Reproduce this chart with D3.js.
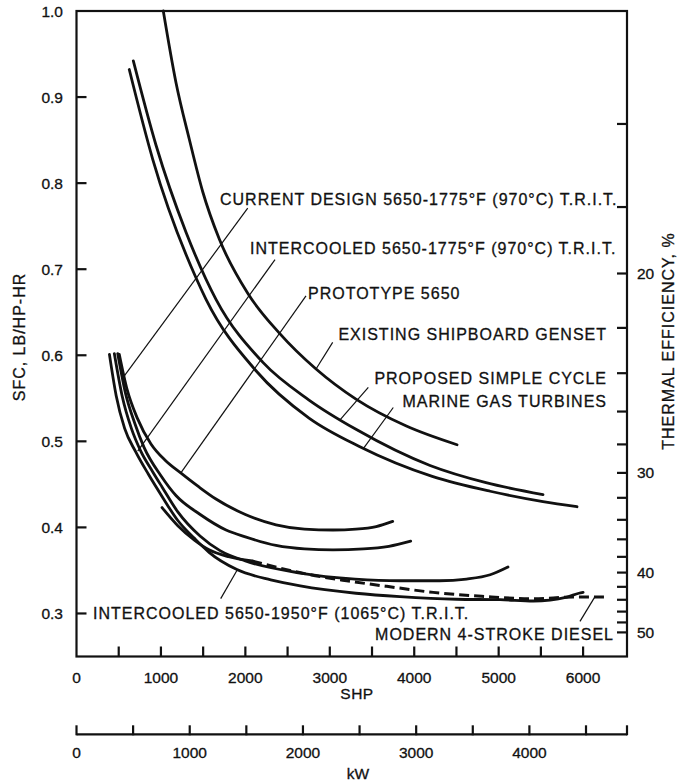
<!DOCTYPE html>
<html>
<head>
<meta charset="utf-8">
<script src="https://cdn.jsdelivr.net/npm/d3@7"></script>
<style>
  html, body { margin: 0; padding: 0; background: #fff; }
  svg { display: block; }
  text { font-family: "Liberation Sans", Arial, Helvetica, sans-serif; fill: #111; stroke: #111; stroke-width: 0.3; }
</style>
</head>
<body>
<svg id="chart" width="689" height="782"></svg>
<script>
// ---------------- DATA ----------------
// Curves: [SHP, SFC lb/hp-hr]
const existingGenset = [[1028,1.0],[1178,0.917],[1336,0.851],[1495,0.790],[1691,0.735],[2028,0.672],[2400,0.626],[2837,0.584],[3310,0.549],[3900,0.518],[4507,0.496]];
const proposedUpper  = [[673,0.942],[942,0.844],[1297,0.743],[1652,0.665],[2205,0.592],[2754,0.548],[3310,0.514],[4187,0.472],[4850,0.452],[5525,0.438]];
const proposedLower  = [[625,0.932],[902,0.828],[1415,0.690],[1534,0.665],[2126,0.582],[2754,0.527],[3350,0.494],[4222,0.459],[4900,0.442],[5525,0.430],[5928,0.424]];
const prototype5650  = [[507,0.601],[600,0.560],[720,0.527],[882,0.497],[1050,0.478],[1238,0.463],[1450,0.447],[1652,0.433],[2000,0.415],[2363,0.403],[2700,0.398],[3038,0.397],[3310,0.398],[3550,0.401],[3745,0.407]];
const currentDesign  = [[488,0.602],[580,0.556],[690,0.521],[800,0.493],[1000,0.460],[1178,0.437],[1465,0.415],[1771,0.397],[2000,0.389],[2363,0.379],[2700,0.375],[3038,0.374],[3400,0.375],[3700,0.378],[3958,0.384]];
const intercooled1775 = [[448,0.602],[540,0.553],[650,0.515],[764,0.488],[900,0.465],[1013,0.447],[1200,0.418],[1463,0.390],[1700,0.373],[2000,0.361],[2650,0.347],[3300,0.340],[3830,0.338],[4300,0.338],[4620,0.340],[4900,0.345],[5110,0.354]];
const intercooled1950 = [[390,0.601],[470,0.553],[570,0.515],[700,0.488],[850,0.462],[1013,0.436],[1200,0.408],[1400,0.387],[1570,0.371],[1900,0.351],[2300,0.339],[2650,0.332],[3310,0.3235],[3830,0.3195],[4500,0.3165],[5016,0.316],[5410,0.3145],[5808,0.319],[5950,0.3235],[6000,0.3245]];
const dieselSolid    = [[1013,0.423],[1200,0.402],[1400,0.385],[1570,0.374],[1800,0.366],[2080,0.361]];
const dieselDashed   = [[2080,0.361],[2765,0.345],[3200,0.338],[3675,0.3315],[4226,0.3245],[4800,0.320],[5410,0.317],[5880,0.319],[6296,0.319]];

// Leader lines: [SHP, SFC] start (label end) -> end (on curve)
const leaderCD      = [[2028,0.771],[547,0.5734]];
const leaderIC1775  = [[2351,0.7112],[725,0.4887]];
const leaderProto   = [[2718,0.669],[1238,0.4636]];
const leaderGenset  = [[3034,0.615],[2837,0.584]];
const leaderPSC1    = [[3456,0.5626],[3121,0.5250]];
const leaderPSC2    = [[3752,0.5393],[3397,0.4915]];
const leaderIC1950  = [[1708,0.3172],[1905,0.3508]];
const leaderDiesel  = [[5963,0.2908],[6141,0.3195]];

// Labels text
const labelTexts = [
  "CURRENT DESIGN 5650-1775°F (970°C) T.R.I.T.",
  "INTERCOOLED 5650-1775°F (970°C) T.R.I.T.",
  "PROTOTYPE 5650",
  "EXISTING SHIPBOARD GENSET",
  "PROPOSED SIMPLE CYCLE",
  "MARINE GAS TURBINES",
  "INTERCOOLED 5650-1950°F (1065°C) T.R.I.T.",
  "MODERN 4-STROKE DIESEL"
];

// Axes
const sfcTicks    = [0.3,0.4,0.5,0.6,0.7,0.8,0.9,1.0];
const sfcLabels   = ["0.3","0.4","0.5","0.6","0.7","0.8","0.9","1.0"];
const shpTicks    = [500,1000,1500,2000,2500,3000,3500,4000,4500,5000,5500,6000];
const shpLabels   = [0,1000,2000,3000,4000,5000,6000];
const kwTicks     = [0,500,1000,1500,2000,2500,3000,3500,4000,4500];
const kwLabels    = [0,1000,2000,3000,4000];
const effTicks    = [16,18,20,22,24,26,28,30,32,34,36,38,40,42,44,46,48,50];
const effLabels   = [20,30,40,50];
const SFC_TIMES_EFF = 0.139;   // SFC (lb/hp-hr) x efficiency (fraction)
const HP_PER_KW = 1.341;
const SHP_MAX = 6520, SFC_MIN = 0.25, SFC_MAX = 1.0;

// ---------------- LAYOUT ----------------
const L = 76.5, R = 627, T = 11, B = 656.5;
const KW_Y = 734.3;
const svg = d3.select("#chart");
const x = d3.scaleLinear().domain([0, SHP_MAX]).range([L, R]);
const y = d3.scaleLinear().domain([SFC_MIN, SFC_MAX]).range([B, T]);
const xkw = d3.scaleLinear().domain([0, SHP_MAX / HP_PER_KW]).range([L, R]);

const FONT = 16, LS = 1.0, TICKFONT = 15.5;
const ink = "#111";

// frame
svg.append("rect").attr("x", L).attr("y", T).attr("width", R - L).attr("height", B - T)
  .attr("fill", "none").attr("stroke", ink).attr("stroke-width", 2.2);

// left ticks + labels
const gL = svg.append("g");
gL.selectAll("line").data(sfcTicks.filter(d => d < 1)).join("line")
  .attr("x1", L).attr("x2", L + 10).attr("y1", d => y(d)).attr("y2", d => y(d))
  .attr("stroke", ink).attr("stroke-width", 2.2);
gL.selectAll("text").data(sfcTicks).join("text")
  .attr("x", 63).attr("y", d => y(d)).attr("dy", "0.36em")
  .attr("text-anchor", "end").attr("font-size", TICKFONT)
  .text((d, i) => sfcLabels[i]);

// bottom SHP ticks + labels
const gB = svg.append("g");
gB.selectAll("line").data(shpTicks).join("line")
  .attr("x1", d => x(d)).attr("x2", d => x(d)).attr("y1", B).attr("y2", B - 10)
  .attr("stroke", ink).attr("stroke-width", 2.2);
gB.selectAll("text").data(shpLabels).join("text")
  .attr("x", d => x(d)).attr("y", 682.5).attr("text-anchor", "middle")
  .attr("font-size", TICKFONT).text(d => d);
svg.append("text").attr("x", 357).attr("y", 698.5).attr("text-anchor", "middle")
  .attr("font-size", TICKFONT).attr("letter-spacing", 0.5).text("SHP");

// kW axis
const gK = svg.append("g");
gK.append("line").attr("x1", L).attr("x2", R).attr("y1", KW_Y).attr("y2", KW_Y)
  .attr("stroke", ink).attr("stroke-width", 2.2);
gK.selectAll("line.t").data(kwTicks.concat([SHP_MAX / HP_PER_KW])).join("line").attr("class", "t")
  .attr("x1", d => xkw(d)).attr("x2", d => xkw(d)).attr("y1", KW_Y + 1).attr("y2", KW_Y - 9)
  .attr("stroke", ink).attr("stroke-width", 2.2);
gK.selectAll("text").data(kwLabels).join("text")
  .attr("x", d => xkw(d)).attr("y", 758).attr("text-anchor", "middle")
  .attr("font-size", TICKFONT).text(d => d);
svg.append("text").attr("x", 358).attr("y", 778.5).attr("text-anchor", "middle")
  .attr("font-size", TICKFONT).text("kW");

// right efficiency axis
const gR = svg.append("g");
gR.selectAll("line").data(effTicks).join("line")
  .attr("x1", R).attr("x2", R - 10)
  .attr("y1", d => y(SFC_TIMES_EFF / (d / 100))).attr("y2", d => y(SFC_TIMES_EFF / (d / 100)))
  .attr("stroke", ink).attr("stroke-width", 2.2);
gR.selectAll("text").data(effLabels).join("text")
  .attr("x", 637).attr("y", d => y(SFC_TIMES_EFF / (d / 100))).attr("dy", "0.36em")
  .attr("font-size", TICKFONT).text(d => d);

// axis titles
svg.append("text").attr("transform", "translate(25,337) rotate(-90)")
  .attr("text-anchor", "middle").attr("font-size", FONT).attr("letter-spacing", LS)
  .text("SFC, LB/HP-HR");
svg.append("text").attr("transform", "translate(674,341) rotate(-90)")
  .attr("text-anchor", "middle").attr("font-size", FONT).attr("letter-spacing", LS)
  .text("THERMAL EFFICIENCY, %");

// curves
const line = d3.line().x(d => x(d[0])).y(d => y(d[1])).curve(d3.curveMonotoneX);
const solidCurves = [existingGenset, proposedUpper, proposedLower, prototype5650, currentDesign, intercooled1775, intercooled1950, dieselSolid];
svg.append("g").selectAll("path").data(solidCurves).join("path")
  .attr("d", line).attr("fill", "none").attr("stroke", ink)
  .attr("stroke-width", 2.8).attr("stroke-linecap", "round");
svg.append("path").datum(dieselDashed).attr("d", line).attr("fill", "none")
  .attr("stroke", ink).attr("stroke-width", 3).attr("stroke-dasharray", "10,5");

// leaders
const leaders = [leaderCD, leaderIC1775, leaderProto, leaderGenset, leaderPSC1, leaderPSC2, leaderIC1950, leaderDiesel];
const straight = d3.line().x(d => x(d[0])).y(d => y(d[1]));
svg.append("g").selectAll("path").data(leaders).join("path")
  .attr("d", straight).attr("fill", "none").attr("stroke", ink).attr("stroke-width", 1.2);

// labels (layout positions kept separately from text data)
const labelLayout = [
  {x: 220, y: 204.5, a: "start"},
  {x: 250, y: 253.7, a: "start"},
  {x: 308, y: 298.7, a: "start"},
  {x: 607, y: 340.4, a: "end"},
  {x: 607, y: 383.7, a: "end"},
  {x: 607, y: 407,   a: "end"},
  {x: 93,  y: 618.7, a: "start"},
  {x: 614, y: 639.5, a: "end"}
];
svg.append("g").selectAll("text").data(labelTexts).join("text")
  .attr("x", (d, i) => labelLayout[i].x).attr("y", (d, i) => labelLayout[i].y)
  .attr("text-anchor", (d, i) => labelLayout[i].a)
  .attr("font-size", FONT).attr("letter-spacing", LS)
  .text(d => d);
</script>
</body>
</html>
